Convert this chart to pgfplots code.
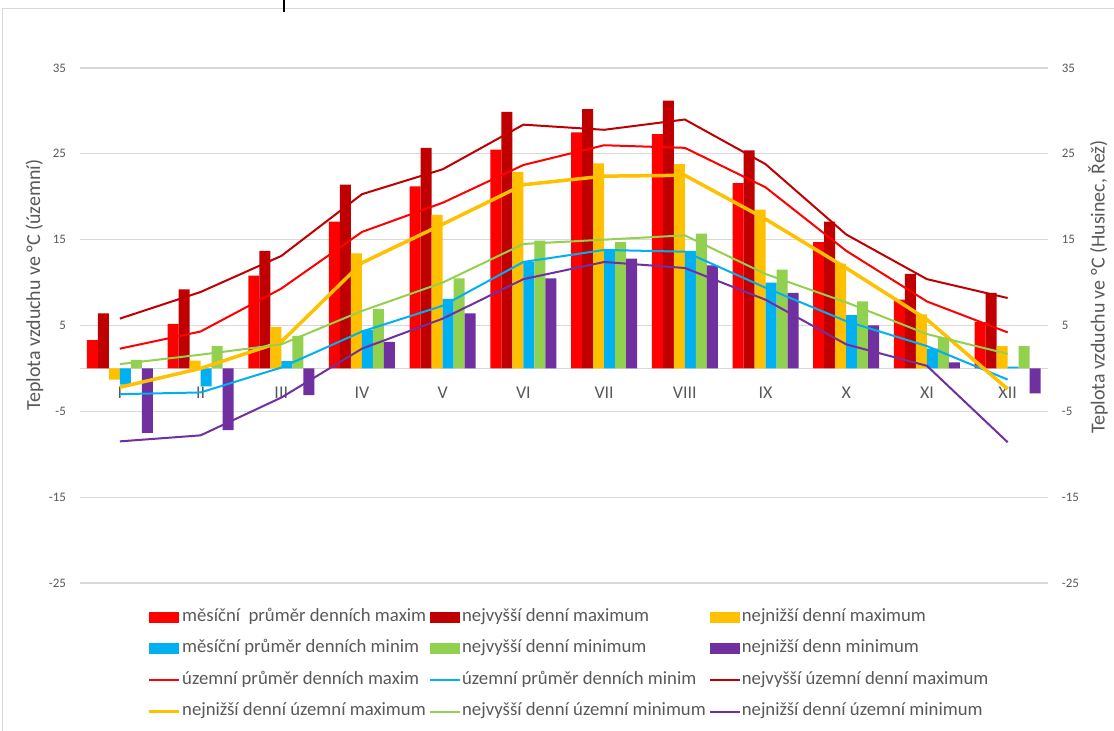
\documentclass[border=0pt]{standalone}
\usepackage{fontspec}
\setmainfont{Carlito}
\usepackage{pgfplots}
\pgfplotsset{compat=1.18}
\definecolor{cR}{HTML}{FF0000}
\definecolor{cDR}{HTML}{C00000}
\definecolor{cY}{HTML}{FFC000}
\definecolor{cB}{HTML}{00B0F0}
\definecolor{cG}{HTML}{92D050}
\definecolor{cP}{HTML}{7030A0}
\definecolor{txt}{HTML}{595959}
\definecolor{grd}{HTML}{D9D9D9}
\pgfplotsset{
 barleg/.style={legend image code/.code={\fill[##1] (0bp,-5.3bp) rectangle (30bp,5.3bp);}},
 lineleg/.style={legend image code/.code={\draw[##1] (0bp,0bp) -- (30bp,0bp);}},
 mybar/.style={ybar, bar width=11bp, bar shift=#1, draw=none},
}
\begin{document}
\begin{tikzpicture}
\useasboundingbox (0,0) rectangle (1114bp,731bp);
\fill[white] (0,0) rectangle (1114bp,731bp);
\draw[grd, line width=1bp] (2bp,0) -- (2bp,722bp) -- (1114bp,722bp);
\draw[black, line width=2bp] (284bp,731bp) -- (284bp,719bp);
\begin{axis}[
 at={(79.5bp,148bp)}, anchor=south west,
 scale only axis, width=968.5bp, height=515bp,
 xmin=0.5, xmax=12.5, ymin=-25, ymax=35,
 axis x line=middle, axis y line=left,
 x axis line style={draw=grd, line width=1.2bp, -},
 y axis line style={draw=none, -},
 xtick={1,...,12}, xticklabels={I,II,III,IV,V,VI,VII,VIII,IX,X,XI,XII},
 ytick={-25,-15,...,35},
 major tick length=0pt,
 ymajorgrids, grid style={draw=grd, line width=1.2bp},
 xticklabel style={font=\fontsize{18}{18}\selectfont, text=txt, anchor=north, inner sep=0pt, yshift=-18bp},
 yticklabel style={font=\fontsize{13}{13}\selectfont, text=txt, anchor=east, inner sep=0pt, xshift=-13.3bp},
 /pgf/number format/assume math mode=true,
 ylabel={Teplota vzduchu ve °C (územní)},
 ylabel style={at={(axis description cs:-0.0465,0.5786)}, anchor=center, font=\fontsize{20}{20}\selectfont, text=txt},
 legend columns=3,
 legend cell align=left,
 legend style={at={(axis description cs:0.0702,-0.0505)}, anchor=north west, draw=none, fill=none, inner sep=0pt,
   row sep=15.5bp, font=\fontsize{18.8}{18.8}\selectfont,
   nodes={inner xsep=1bp, inner ysep=0pt, text height=12bp, text depth=4bp, text=txt, font=\fontsize{18.8}{18.8}\selectfont},
   /tikz/column sep=0pt, /tikz/every even column/.append style={column sep=2bp}},
]
% bars
\addplot[mybar=-27.5bp, fill=cR, barleg] coordinates {(1,3.3) (2,5.2) (3,10.8) (4,17.1) (5,21.2) (6,25.5) (7,27.5) (8,27.3) (9,21.6) (10,14.7) (11,8.0) (12,5.4)};
\addlegendentry{měsíční~ průměr denních maxim}
\addplot[mybar=-16.5bp, fill=cDR, barleg] coordinates {(1,6.4) (2,9.2) (3,13.7) (4,21.4) (5,25.7) (6,29.9) (7,30.2) (8,31.2) (9,25.4) (10,17.1) (11,11.0) (12,8.8)};
\addlegendentry{nejvyšší denní maximum}
\addplot[mybar=-5.5bp, fill=cY, barleg] coordinates {(1,-1.3) (2,0.9) (3,4.8) (4,13.4) (5,17.9) (6,22.9) (7,23.9) (8,23.8) (9,18.5) (10,12.2) (11,6.3) (12,2.6)};
\addlegendentry{nejnižší denní maximum}
\addplot[mybar=5.5bp, fill=cB, barleg] coordinates {(1,-1.9) (2,-2.1) (3,0.85) (4,4.5) (5,8.1) (6,12.4) (7,13.9) (8,13.7) (9,10.0) (10,6.2) (11,2.3) (12,0.2)};
\addlegendentry{měsíční průměr denních minim}
\addplot[mybar=16.5bp, fill=cG, barleg] coordinates {(1,1.0) (2,2.6) (3,3.8) (4,6.9) (5,10.5) (6,14.9) (7,14.7) (8,15.7) (9,11.5) (10,7.8) (11,3.6) (12,2.6)};
\addlegendentry{nejvyšší denní minimum}
\addplot[mybar=27.5bp, fill=cP, barleg] coordinates {(1,-7.5) (2,-7.2) (3,-3.1) (4,3.1) (5,6.4) (6,10.5) (7,12.8) (8,12.0) (9,8.8) (10,5.0) (11,0.7) (12,-2.9)};
\addlegendentry{nejnižší denn minimum}
% lines
\addplot[cR, line width=2bp, mark=none, lineleg] coordinates {(1,2.3) (2,4.3) (3,9.3) (4,15.9) (5,19.3) (6,23.7) (7,26.0) (8,25.7) (9,21.1) (10,13.7) (11,7.8) (12,4.2)};
\addlegendentry{územní průměr denních maxim}
\addplot[cB, line width=2bp, mark=none, lineleg] coordinates {(1,-3.0) (2,-2.8) (3,0.1) (4,4.3) (5,7.3) (6,12.4) (7,13.8) (8,13.6) (9,9.4) (10,5.5) (11,2.6) (12,-1.3)};
\addlegendentry{územní průměr denních minim}
\addplot[cDR, line width=2bp, mark=none, lineleg] coordinates {(1,5.8) (2,8.9) (3,13.1) (4,20.3) (5,23.2) (6,28.4) (7,27.8) (8,29.0) (9,23.8) (10,15.6) (11,10.4) (12,8.2)};
\addlegendentry{nejvyšší územní denní maximum}
\addplot[cY, line width=3.5bp, mark=none, lineleg] coordinates {(1,-2.2) (2,0.0) (3,3.1) (4,12.3) (5,16.8) (6,21.4) (7,22.4) (8,22.5) (9,17.4) (10,11.7) (11,5.7) (12,-2.4)};
\addlegendentry{nejnižší denní územní maximum}
\addplot[cG, line width=2bp, mark=none, lineleg] coordinates {(1,0.5) (2,1.6) (3,2.8) (4,6.7) (5,10.0) (6,14.5) (7,15.0) (8,15.5) (9,11.0) (10,7.7) (11,4.0) (12,1.7)};
\addlegendentry{nejvyšší denní územní minimum}
\addplot[cP, line width=2bp, mark=none, lineleg] coordinates {(1,-8.5) (2,-7.8) (3,-3.4) (4,2.3) (5,5.8) (6,10.4) (7,12.4) (8,11.7) (9,8.0) (10,2.8) (11,0.3) (12,-8.6)};
\addlegendentry{nejnižší denní územní minimum}
\end{axis}
\begin{axis}[
 at={(79.5bp,148bp)}, anchor=south west,
 scale only axis, width=968.5bp, height=515bp,
 xmin=0.5, xmax=12.5, ymin=-25, ymax=35,
 axis x line=none, axis y line=right,
 y axis line style={draw=none, -},
 ytick={-25,-15,...,35},
 major tick length=0pt,
 yticklabel style={font=\fontsize{13}{13}\selectfont, text=txt, anchor=west, inner sep=0pt, xshift=13.7bp},
 /pgf/number format/assume math mode=true,
 ylabel={Teplota vzduchu ve °C (Husinec, Řež)},
 ylabel style={at={(axis description cs:1.0516,0.5748)}, anchor=center, font=\fontsize{20}{20}\selectfont, text=txt},
]
\addplot[draw=none] coordinates {(1,0)};
\end{axis}
\end{tikzpicture}
\end{document}
